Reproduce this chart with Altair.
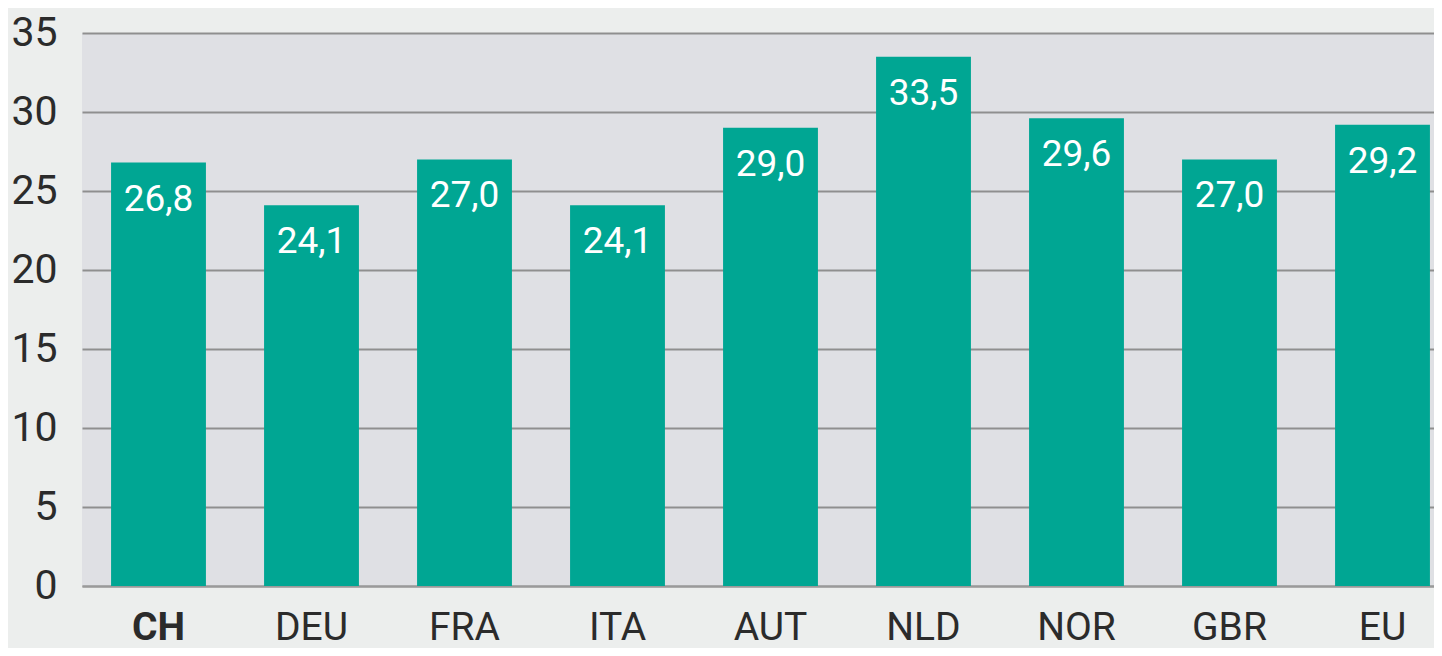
import altair as alt
import pandas as pd

countries = ["CH", "DEU", "FRA", "ITA", "AUT", "NLD", "NOR", "GBR", "EU"]
values = [26.8, 24.1, 27.0, 24.1, 29.0, 33.5, 29.6, 27.0, 29.2]
y_ticks = [0, 5, 10, 15, 20, 25, 30, 35]

df = pd.DataFrame({"country": countries, "value": values})

FONT = "Roboto, Liberation Sans, sans-serif"

x = alt.X(
    "country:N",
    sort=countries,
    title=None,
    scale=alt.Scale(paddingInner=0.38, paddingOuter=0.19, range=[0, 1377]),
    axis=alt.Axis(
        labelAngle=0,
        labelFont=FONT,
        labelFontSize=39,
        labelColor="#2b2b2b",
        labelPadding=22,
        labelFontWeight={"condition": {"test": "datum.value == 'CH'", "value": "bold"}, "value": "normal"},
        ticks=False,
        domain=True,
        domainColor="#9a9a9a",
        domainWidth=2,
        grid=False,
    ),
)
y = alt.Y(
    "value:Q",
    title=None,
    scale=alt.Scale(domain=[0, 35], nice=False),
    axis=alt.Axis(
        values=y_ticks,
        labelFont=FONT,
        labelFontSize=41,
        labelColor="#2b2b2b",
        labelPadding=25,
        ticks=False,
        domain=False,
        grid=True,
        gridColor="#8f8f8f",
        gridWidth=2,
    ),
)

bars = alt.Chart(df).mark_bar(color="#00a693").encode(x=x, y=y)

labels = (
    alt.Chart(df)
    .transform_calculate(lbl="replace(format(datum.value, '.1f'), '.', ',')")
    .mark_text(color="white", font=FONT, fontSize=37, baseline="top", dy=19)
    .encode(x=alt.X("country:N", sort=countries), y="value:Q", text="lbl:N")
)

chart = (
    alt.layer(bars, labels)
    .properties(
        width=1352,
        height=553,
        autosize=alt.AutoSizeParams(type="none"),
        padding={"left": 74, "top": 25, "right": 0, "bottom": 62},
        background="#eceeed",
    )
    .configure_view(fill="#dfe0e4", stroke=None)
)

chart.save("out.html", embed_options={"renderer": "svg", "actions": False})
